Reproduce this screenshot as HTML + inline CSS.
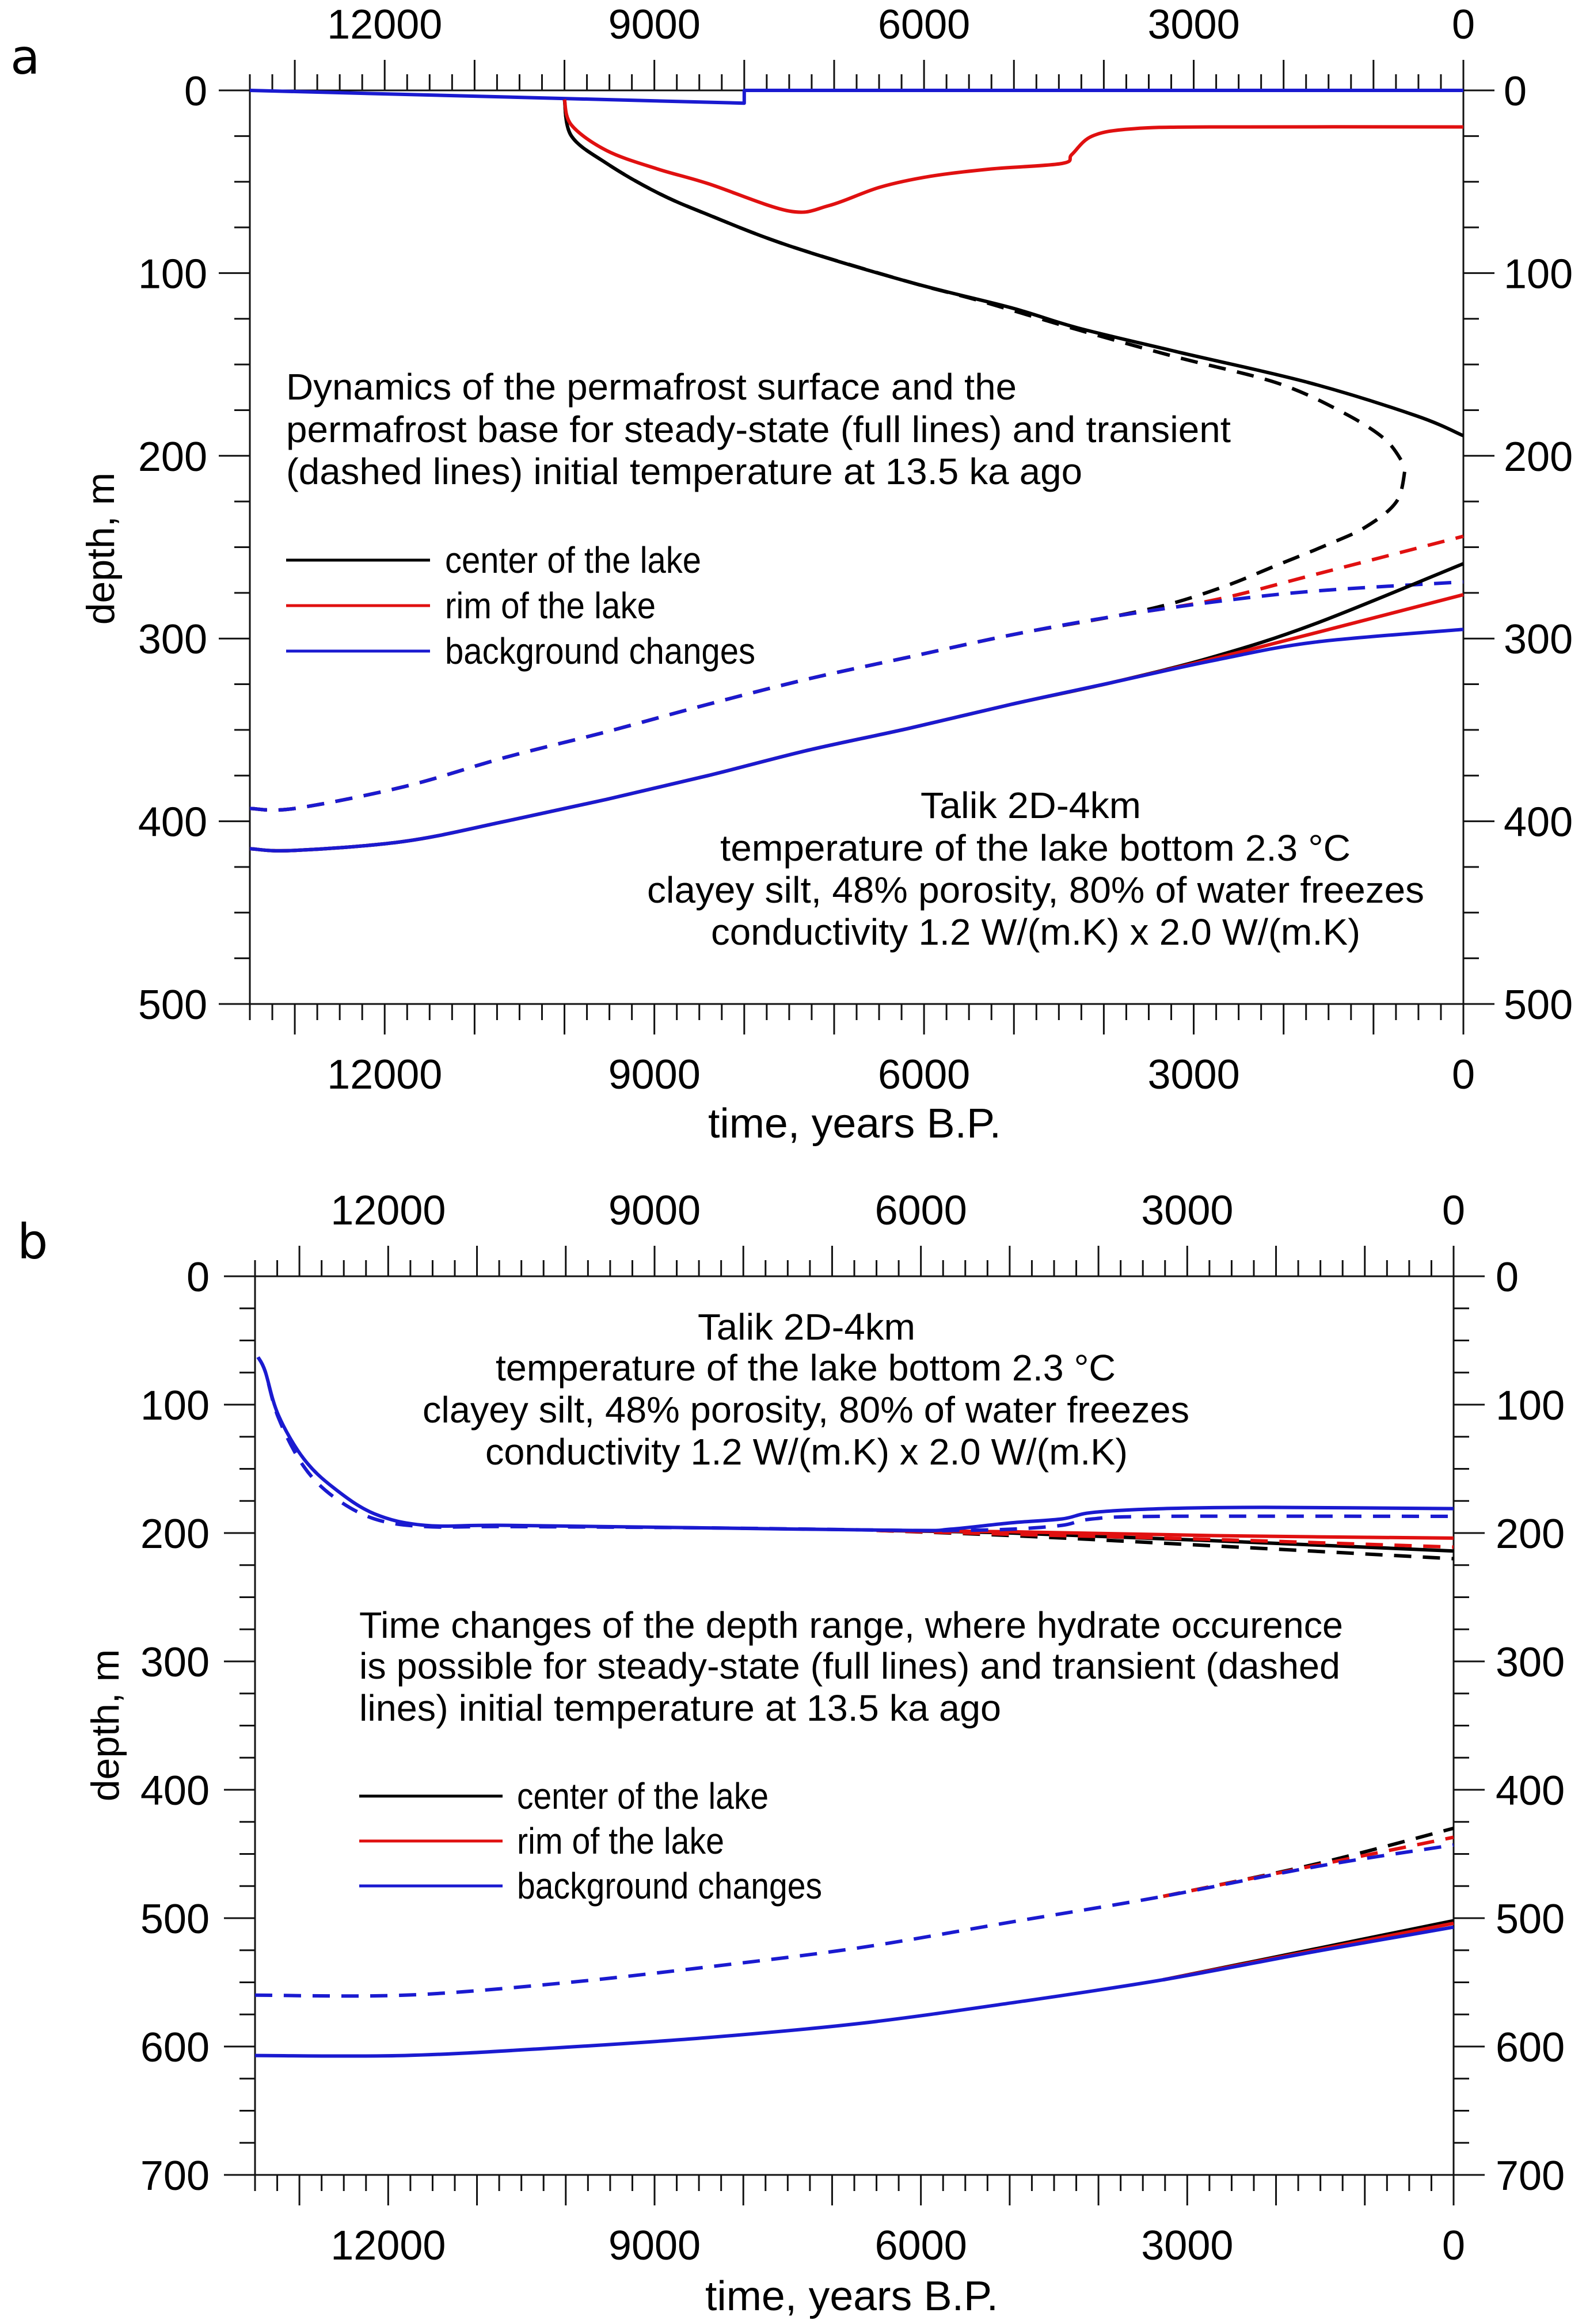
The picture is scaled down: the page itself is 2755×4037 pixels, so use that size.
<!DOCTYPE html>
<html><head><meta charset="utf-8"><style>
html,body{margin:0;padding:0;background:#fff;}
svg{display:block;font-family:"Liberation Sans",Arial,sans-serif;}
</style></head><body>
<svg id="fig" width="2755" height="4037" viewBox="0 0 2755 4037" xmlns="http://www.w3.org/2000/svg">
<rect x="0" y="0" width="2755" height="4037" fill="#fff"/>
<text x="18" y="128" font-size="84" font-family="'DejaVu Sans',sans-serif">a</text>
<text x="30" y="2186" font-size="84" font-family="'DejaVu Sans',sans-serif">b</text>
<g id="pa"></g>
<g id="pb"></g>
</svg>
<script>
// ---------- Panel a data (time years BP, depth m) ----------
const aTicksX = [12000, 9000, 6000, 3000, 0];
const aTicksY = [0, 100, 200, 300, 400, 500];
const aSurfBgT = [13500, 8000, 8000, 0];
const aSurfBgD = [0, 7, 0, 0];
const aRimSurfT = [10000, 9922, 9529, 8966, 8404, 7504, 7054, 6491, 5929, 5254, 4466, 4354, 4129, 3679, 2779, 0];
const aRimSurfD = [5, 19, 33, 43, 51, 66, 63, 53, 47, 43, 40, 35, 25, 21, 20, 20];
const aCenSurfT = [10000, 9922, 9529, 8966, 8404, 7504, 6154, 5029, 4290, 3189, 1716, 529, 0];
const aCenSurfD = [5, 25, 40, 56, 68, 85, 105, 119, 130, 143, 160, 178, 189];
const aCenSurfDashT = [10000, 9922, 9529, 8966, 8404, 7504, 6154, 5392, 4290, 3189, 2081, 1351, 871, 647];
const aCenSurfDashD = [5, 25, 40, 56, 68, 85, 105, 115, 131, 146, 160, 176, 191, 206];
const aBgBaseDashT = [13500, 13000, 11779, 10654, 9529, 8404, 7279, 6154, 5029, 3904, 2779, 1654, 0];
const aBgBaseDashD = [393, 393, 381, 365, 351, 336, 322, 310, 298, 288, 280, 274, 269];
const aCenBaseDashT = [13500, 13000, 11779, 10654, 9529, 8404, 7279, 6154, 5029, 3904, 3259, 2632, 2081, 1530, 1089, 743, 647];
const aCenBaseDashD = [393, 393, 381, 365, 351, 336, 322, 310, 298, 288, 281, 271, 260, 249, 239, 225, 207];
const aRimBaseDashT = [13500, 13000, 11779, 10654, 9529, 8404, 7279, 6154, 5029, 3904, 2779, 1654, 0];
const aRimBaseDashD = [393, 393, 381, 365, 351, 336, 322, 310, 298, 288, 279, 265, 244];
const aBgBaseT = [13500, 13016, 11779, 10654, 9529, 8404, 7279, 6154, 5029, 3904, 2779, 1654, 0];
const aBgBaseD = [415, 416, 411, 400, 388, 375, 361, 349, 336, 324, 312, 302, 295];
const aCenBaseT = [13500, 13016, 11779, 10654, 9529, 8404, 7279, 6154, 5029, 3904, 2779, 1654, 0];
const aCenBaseD = [415, 416, 411, 400, 388, 375, 361, 349, 336, 324, 310, 292, 259];
const aRimBaseT = [13500, 13016, 11779, 10654, 9529, 8404, 7279, 6154, 5029, 3904, 2779, 1654, 0];
const aRimBaseD = [415, 416, 411, 400, 388, 375, 361, 349, 336, 324, 311, 297, 276];

// ---------- Panel b data ----------
const bTicksX = [12000, 9000, 6000, 3000, 0];
const bTicksY = [0, 100, 200, 300, 400, 500, 600, 700];
const bUpBgT = [13466, 13386, 13238, 12953, 12611, 12155, 11586, 10675, 8397, 6119, 5664, 4980, 4410, 4067, 3270, 2130, 0];
const bUpBgD = [63, 74, 108, 142, 165, 185, 194, 194, 196, 198, 197, 192, 189, 184, 181, 180, 181];
const bUpBgDashT = [13466, 13386, 13238, 12953, 12611, 12155, 11586, 10675, 8397, 6119, 5664, 4980, 4410, 4067, 3270, 0];
const bUpBgDashD = [63, 74, 110, 148, 172, 189, 195, 195, 196, 198, 198, 197, 194, 189, 187, 187];
const bUpRimT = [6500, 4980, 2700, 0];
const bUpRimD = [198, 199, 202, 204];
const bUpRimDashT = [6500, 4980, 2700, 0];
const bUpRimDashD = [198, 201, 205, 211];
const bUpCenT = [6500, 4980, 2700, 0];
const bUpCenD = [198, 200, 206, 214];
const bUpCenDashT = [6500, 4980, 2700, 0];
const bUpCenDashD = [198, 202, 210, 220];
const bLoBgT = [13500, 11814, 10105, 8397, 6688, 4980, 3270, 1561, 0];
const bLoBgD = [607, 607, 601, 593, 582, 566, 548, 526, 507];
const bLoRimT = [3270, 1561, 0];
const bLoRimD = [548, 525, 504];
const bLoCenT = [3270, 1561, 0];
const bLoCenD = [548, 524, 502];
const bLoBgDashT = [13500, 11814, 10105, 8397, 6688, 4980, 3270, 1561, 0];
const bLoBgDashD = [560, 560, 551, 538, 523, 503, 483, 460, 443];
const bLoRimDashT = [3270, 1561, 0];
const bLoRimDashD = [483, 459, 437];
const bLoCenDashT = [3270, 1561, 0];
const bLoCenDashD = [483, 458, 430];

const NS = "http://www.w3.org/2000/svg";
const BLACK = "#000", RED = "#e01010", BLUE = "#1a1ad0";

function mk(parent, tag, attrs) {
  const e = document.createElementNS(NS, tag);
  for (const k in attrs) e.setAttribute(k, attrs[k]);
  parent.appendChild(e);
  return e;
}

function smoothPath(pts) {
  if (pts.length < 3) return "M" + pts.map(p => p[0].toFixed(1) + "," + p[1].toFixed(1)).join("L");
  let d = "M" + pts[0][0].toFixed(1) + "," + pts[0][1].toFixed(1);
  for (let i = 0; i < pts.length - 1; i++) {
    const p0 = pts[i - 1] || pts[i], p1 = pts[i], p2 = pts[i + 1], p3 = pts[i + 2] || p2;
    const c1x = p1[0] + (p2[0] - p0[0]) / 6, c1y = p1[1] + (p2[1] - p0[1]) / 6;
    const c2x = p2[0] - (p3[0] - p1[0]) / 6, c2y = p2[1] - (p3[1] - p1[1]) / 6;
    d += "C" + c1x.toFixed(1) + "," + c1y.toFixed(1) + " " + c2x.toFixed(1) + "," + c2y.toFixed(1) + " " + p2[0].toFixed(1) + "," + p2[1].toFixed(1);
  }
  return d;
}

function buildPanel(g, cfg) {
  const X = t => cfg.right - (t / 13500) * (cfg.right - cfg.left);
  const Y = v => cfg.top + (v / cfg.ymax) * (cfg.bottom - cfg.top);
  const frame = mk(g, "rect", {x: cfg.left, y: cfg.top, width: cfg.right - cfg.left, height: cfg.bottom - cfg.top, fill: "none", stroke: "#111", "stroke-width": 3});
  
  
  for (let t = 0; t <= 13500; t += 250) {
    const x = X(t), L = (t % 1000 === 0) ? 53 : 28;
    const tt = mk(g, "line", {x1: x, x2: x, y1: cfg.top, y2: cfg.top - L, stroke: "#111", "stroke-width": 3});
    
    
    const tb = mk(g, "line", {x1: x, x2: x, y1: cfg.bottom, y2: cfg.bottom + L, stroke: "#111", "stroke-width": 3});
    
    
  }
  for (let v = 0; v <= cfg.ymax; v += 25) {
    const y = Y(v), L = (v % 100 === 0) ? 54 : 27;
    const tl = mk(g, "line", {x1: cfg.left, x2: cfg.left - L, y1: y, y2: y, stroke: "#111", "stroke-width": 3});
    
    
    const tr = mk(g, "line", {x1: cfg.right, x2: cfg.right + L, y1: y, y2: y, stroke: "#111", "stroke-width": 3});
    
    
  }
  cfg.ticksX.forEach(t => {
    const a = mk(g, "text", {x: X(t), y: cfg.topLabelY, "font-size": 72, "text-anchor": "middle"});
    a.textContent = String(t);
    
    
    const b = mk(g, "text", {x: X(t), y: cfg.botLabelY, "font-size": 72, "text-anchor": "middle"});
    b.textContent = String(t);
    
    
  });
  cfg.ticksY.forEach(v => {
    const a = mk(g, "text", {x: cfg.leftLabelX, y: Y(v) + 26, "font-size": 72, "text-anchor": "end"});
    a.textContent = String(v);
    
    
    const b = mk(g, "text", {x: cfg.rightLabelX, y: Y(v) + 26, "font-size": 72, "text-anchor": "start"});
    b.textContent = String(v);
    
    
  });
  const xt = mk(g, "text", {x: cfg.xTitleX, y: cfg.xTitleY, "font-size": 72, textLength: 509, lengthAdjust: "spacingAndGlyphs"});
  xt.textContent = "time, years B.P.";
  
  
  const yt = mk(g, "text", {x: 0, y: 0, "font-size": 68, "text-anchor": "middle", transform: "translate(" + cfg.yTitleX + "," + cfg.yTitleY + ") rotate(-90)"});
  yt.textContent = "depth, m";
  
  
  cfg.series.forEach(s => {
    const pts = s.t.map((t, i) => [X(t), Y(s.d[i])]);
    const d = s.linear ? "M" + pts.map(p => p[0].toFixed(1) + "," + p[1].toFixed(1)).join("L") : smoothPath(pts);
    const attrs = {d: d, fill: "none", stroke: s.c, "stroke-width": 6, "stroke-linejoin": "round"};
    if (s.dash) attrs["stroke-dasharray"] = "30 20";
    const p = mk(g, "path", attrs);
    
    
  });
  cfg.texts.forEach(tx => {
    const e = mk(g, "text", {x: tx.x, y: tx.y, "font-size": 64, textLength: tx.w, lengthAdjust: "spacingAndGlyphs"});
    e.textContent = tx.s;
    
    
  });
  const lg = mk(g, "g", {});
  
  
  cfg.legend.items.forEach((it, i) => {
    const y = cfg.legend.y[i];
    const ln = mk(lg, "line", {x1: cfg.legend.x1, x2: cfg.legend.x2, y1: y, y2: y, stroke: it.c, "stroke-width": 5});
    
    
    const t = mk(lg, "text", {x: cfg.legend.tx, y: y + 22, "font-size": 64, textLength: it.w, lengthAdjust: "spacingAndGlyphs"});
    t.textContent = it.s;
    
    
  });
}

buildPanel(document.getElementById("pa"), {
  left: 434, right: 2542, top: 157, bottom: 1744, ymax: 500,
  ticksX: aTicksX, ticksY: aTicksY,
  topLabelY: 67, botLabelY: 1891, leftLabelX: 360, rightLabelX: 2612,
  xTitleX: 1230, xTitleY: 1976, yTitleX: 198, yTitleY: 953,
  series: [
    {name: "background-surface", t: aSurfBgT, d: aSurfBgD, c: BLUE, linear: true},
    {name: "center-surface-dashed", t: aCenSurfDashT, d: aCenSurfDashD, c: BLACK, dash: true},
    {name: "center-surface", t: aCenSurfT, d: aCenSurfD, c: BLACK},
    {name: "rim-surface", t: aRimSurfT, d: aRimSurfD, c: RED},
    {name: "center-base-dashed", t: aCenBaseDashT, d: aCenBaseDashD, c: BLACK, dash: true},
    {name: "rim-base-dashed", t: aRimBaseDashT, d: aRimBaseDashD, c: RED, dash: true},
    {name: "background-base-dashed", t: aBgBaseDashT, d: aBgBaseDashD, c: BLUE, dash: true},
    {name: "center-base", t: aCenBaseT, d: aCenBaseD, c: BLACK},
    {name: "rim-base", t: aRimBaseT, d: aRimBaseD, c: RED},
    {name: "background-base", t: aBgBaseT, d: aBgBaseD, c: BLUE}
  ],
  texts: [
    {name: "description-line-1", s: "Dynamics of the permafrost surface and the", x: 497, y: 694, w: 1269},
    {name: "description-line-2", s: "permafrost base for steady-state (full lines) and transient", x: 497, y: 768, w: 1641},
    {name: "description-line-3", s: "(dashed lines) initial temperature at 13.5 ka ago", x: 497, y: 841, w: 1383},
    {name: "model-title", s: "Talik 2D-4km", x: 1599, y: 1421, w: 383},
    {name: "model-temperature", s: "temperature of the lake bottom 2.3 \u00B0C", x: 1251, y: 1495, w: 1095},
    {name: "model-soil", s: "clayey silt, 48% porosity, 80% of water freezes", x: 1124, y: 1568, w: 1350},
    {name: "model-conductivity", s: "conductivity 1.2 W/(m.K) x 2.0 W/(m.K)", x: 1235, y: 1641, w: 1128}
  ],
  legend: {x1: 497, x2: 747, tx: 773, y: [973, 1052, 1131], items: [
    {s: "center of the lake", c: BLACK, w: 445},
    {s: "rim of the lake", c: RED, w: 366},
    {s: "background changes", c: BLUE, w: 539}]}
});

buildPanel(document.getElementById("pb"), {
  left: 443, right: 2525, top: 2217, bottom: 3778, ymax: 700,
  ticksX: bTicksX, ticksY: bTicksY,
  topLabelY: 2127, botLabelY: 3925, leftLabelX: 364, rightLabelX: 2598,
  xTitleX: 1225, xTitleY: 4013, yTitleX: 206, yTitleY: 2997,
  series: [
    {name: "center-upper-dashed", t: bUpCenDashT, d: bUpCenDashD, c: BLACK, dash: true},
    {name: "center-upper", t: bUpCenT, d: bUpCenD, c: BLACK},
    {name: "rim-upper-dashed", t: bUpRimDashT, d: bUpRimDashD, c: RED, dash: true},
    {name: "rim-upper", t: bUpRimT, d: bUpRimD, c: RED},
    {name: "background-upper-dashed", t: bUpBgDashT, d: bUpBgDashD, c: BLUE, dash: true},
    {name: "background-upper", t: bUpBgT, d: bUpBgD, c: BLUE},
    {name: "center-lower-dashed", t: bLoCenDashT, d: bLoCenDashD, c: BLACK, dash: true},
    {name: "rim-lower-dashed", t: bLoRimDashT, d: bLoRimDashD, c: RED, dash: true},
    {name: "background-lower-dashed", t: bLoBgDashT, d: bLoBgDashD, c: BLUE, dash: true},
    {name: "center-lower", t: bLoCenT, d: bLoCenD, c: BLACK},
    {name: "rim-lower", t: bLoRimT, d: bLoRimD, c: RED},
    {name: "background-lower", t: bLoBgT, d: bLoBgD, c: BLUE}
  ],
  texts: [
    {name: "model-title", s: "Talik 2D-4km", x: 1212, y: 2327, w: 378},
    {name: "model-temperature", s: "temperature of the lake bottom 2.3 \u00B0C", x: 861, y: 2398, w: 1077},
    {name: "model-soil", s: "clayey silt, 48% porosity, 80% of water freezes", x: 734, y: 2471, w: 1332},
    {name: "model-conductivity", s: "conductivity 1.2 W/(m.K) x 2.0 W/(m.K)", x: 843, y: 2544, w: 1116},
    {name: "description-line-1", s: "Time changes of the depth range, where hydrate occurence", x: 624, y: 2845, w: 1709},
    {name: "description-line-2", s: "is possible for steady-state (full lines) and transient (dashed", x: 624, y: 2916, w: 1704},
    {name: "description-line-3", s: "lines) initial temperature at 13.5 ka ago", x: 624, y: 2989, w: 1115}
  ],
  legend: {x1: 624, x2: 873, tx: 898, y: [3120, 3198, 3276], items: [
    {s: "center of the lake", c: BLACK, w: 437},
    {s: "rim of the lake", c: RED, w: 360},
    {s: "background changes", c: BLUE, w: 530}]}
});
</script>
</body></html>
